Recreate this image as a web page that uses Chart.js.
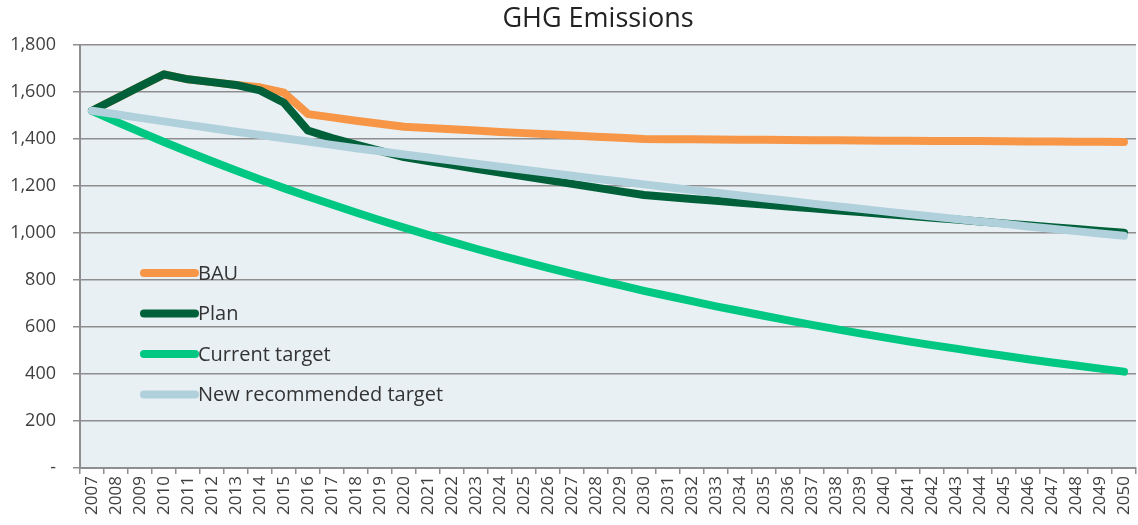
<!DOCTYPE html>
<html>
<head>
<meta charset="utf-8">
<script src="https://cdn.jsdelivr.net/npm/chart.js@4"></script>
<style>
  body { margin: 0; background: #ffffff; }
  canvas { display: block; }
</style>
</head>
<body>
<canvas id="chart" width="1138" height="525"></canvas>
<script>
const years = Array.from({ length: 44 }, (_, i) => String(2007 + i));

const bau = [1520, 1572, 1624, 1675, 1654, 1642, 1630, 1620, 1597, 1506,
  1492, 1478, 1465, 1452, 1447, 1441, 1436, 1430, 1425, 1420,
  1415, 1410, 1405, 1400, 1399, 1399, 1398, 1397, 1397, 1396,
  1395, 1395, 1394, 1393, 1393, 1392, 1391, 1391, 1390, 1389,
  1389, 1388, 1388, 1387];

const plan = [1520, 1572, 1624, 1675, 1654, 1642, 1630, 1607, 1554, 1436,
  1404, 1376, 1349, 1323, 1306, 1290, 1273, 1257, 1241, 1225,
  1209, 1193, 1177, 1162, 1153, 1145, 1137, 1129, 1121, 1113,
  1105, 1097, 1089, 1081, 1073, 1065, 1057, 1049, 1041, 1033,
  1025, 1017, 1009, 1001];

const currentTarget = [1520, 1474, 1430, 1387, 1346, 1305, 1266, 1228, 1191, 1155,
  1121, 1087, 1054, 1023, 992, 962, 933, 905, 878, 852,
  826, 802, 778, 754, 732, 710, 688, 668, 648, 628,
  609, 591, 573, 556, 539, 523, 508, 492, 478, 463,
  449, 436, 423, 410];

const newTarget = [1520, 1505, 1490, 1475, 1460, 1446, 1431, 1417, 1403, 1389,
  1375, 1361, 1348, 1334, 1321, 1308, 1295, 1282, 1269, 1256,
  1244, 1231, 1219, 1207, 1195, 1183, 1171, 1160, 1148, 1137,
  1125, 1114, 1103, 1092, 1081, 1070, 1060, 1049, 1039, 1028,
  1018, 1008, 998, 988];

const chartTitle = 'GHG Emissions';

const FONT = '"Open Sans", "Liberation Sans", sans-serif';
const GRID = '#8e8e8e';

function line(label, data, color, order) {
    return {
        label: label,
        data: data,
        borderColor: color,
        backgroundColor: color,
        borderWidth: 8,
        borderCapStyle: 'round',
        borderJoinStyle: 'round',
        pointRadius: 0,
        tension: 0,
        fill: false,
        order: order
    };
}

// plot background + title (title is centred a bit right of the canvas middle)
const plotBg = {
    id: 'plotBg',
    beforeDraw(chart) {
        const { ctx, chartArea: a } = chart;
        ctx.save();
        ctx.fillStyle = '#e8f0f4';
        ctx.fillRect(a.left, a.top, a.right - a.left, a.bottom - a.top);
        ctx.fillStyle = '#222222';
        ctx.font = '27px ' + FONT;
        ctx.textAlign = 'center';
        ctx.textBaseline = 'middle';
        ctx.fillText(chartTitle, 598, 19);
        ctx.restore();
    }
};

// legend sitting inside the plot
const insideLegend = {
    id: 'insideLegend',
    afterDatasetsDraw(chart) {
        const ctx = chart.ctx;
        const x0 = 144, x1 = 195, y0 = 273, gap = 40.5;
        ctx.save();
        chart.data.datasets.forEach((ds, i) => {
            const y = y0 + i * gap;
            ctx.strokeStyle = ds.borderColor;
            ctx.lineWidth = 8;
            ctx.lineCap = 'round';
            ctx.beginPath();
            ctx.moveTo(x0, y);
            ctx.lineTo(x1, y);
            ctx.stroke();
            ctx.fillStyle = '#333333';
            ctx.font = '20px ' + FONT;
            ctx.textBaseline = 'middle';
            ctx.textAlign = 'left';
            ctx.fillText(ds.label, 198, y + 1);
        });
        ctx.restore();
    }
};

new Chart(document.getElementById('chart'), {
    type: 'line',
    data: {
        labels: years,
        datasets: [
            line('BAU', bau, '#f79646', 4),
            line('Plan', plan, '#00603a', 3),
            line('Current target', currentTarget, '#00c882', 2),
            line('New recommended target', newTarget, '#b0d0dc', 1)
        ]
    },
    options: {
        responsive: false,
        animation: false,
        devicePixelRatio: 1,
        layout: { padding: { left: 0, right: 2, top: 45, bottom: 0 } },
        plugins: {
            legend: { display: false },
            tooltip: { enabled: false },
            title: { display: false }
        },
        scales: {
            x: {
                offset: true,
                grid: {
                    offset: true,
                    drawOnChartArea: false,
                    drawTicks: true,
                    tickLength: 6,
                    color: GRID,
                    lineWidth: 1.5
                },
                border: { display: true, color: GRID, width: 2 },
                ticks: {
                    autoSkip: false,
                    minRotation: 90,
                    maxRotation: 90,
                    padding: 2,
                    color: '#404040',
                    font: { family: FONT, size: 17 }
                },
                afterFit(scale) {
                    scale.height = 57;
                    scale.paddingLeft = 0;
                    scale.paddingRight = 0;
                }
            },
            y: {
                min: 0,
                max: 1800,
                grid: {
                    color: GRID,
                    lineWidth: 1.5,
                    drawTicks: true,
                    tickLength: 7
                },
                border: { display: true, color: GRID, width: 2 },
                ticks: {
                    stepSize: 200,
                    padding: 17,
                    color: '#404040',
                    font: { family: FONT, size: 18 },
                    callback: v => v === 0 ? '-' : v.toLocaleString('en-US')
                },
                afterFit(scale) {
                    scale.width = 80;
                    scale.paddingTop = 0;
                    scale.paddingBottom = 0;
                }
            }
        }
    },
    plugins: [plotBg, insideLegend]
});
</script>
</body>
</html>
